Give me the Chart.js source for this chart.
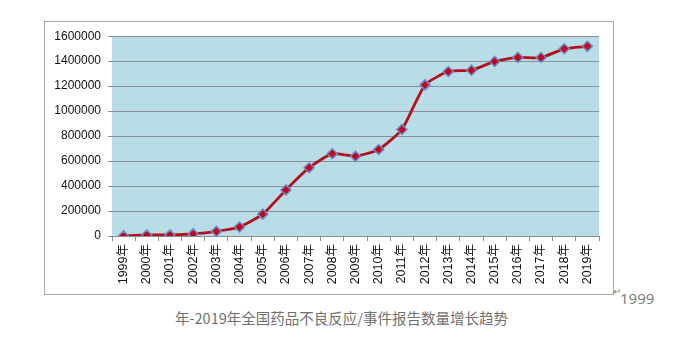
<!DOCTYPE html>
<html>
<head>
<meta charset="utf-8">
<script src="https://cdn.jsdelivr.net/npm/chart.js@4/dist/chart.umd.min.js"></script>
<style>
  html, body { margin: 0; padding: 0; background: #fff; width: 679px; height: 351px; overflow: hidden; position: relative; }
  #box { position: absolute; left: 44px; top: 21px; width: 568px; height: 272px; border: 1px solid #a6a6a6; background: #fff; }
  #box canvas { display: block; }
  .txt { position: absolute; color: #666; font-family: "Noto Sans CJK SC", "Noto Sans", sans-serif; white-space: nowrap; }
  #ret { left: 613px; top: 283px; font-size: 10px; color: #888; }
  #yr { left: 620px; top: 289px; font-size: 15px; line-height: 18px; font-family: "Noto Sans", "Noto Sans CJK SC", sans-serif; color: #808080; }
  #cap { left: 175px; top: 309px; font-size: 14.5px; line-height: 18px; color: #707070; }
</style>
</head>
<body>
<div id="box"><canvas id="c" width="568" height="272"></canvas></div>
<div class="txt" id="ret">↵</div>
<div class="txt" id="yr">1999</div>
<div class="txt" id="cap">年-2019年全国药品不良反应/事件报告数量增长趋势</div>
<script>
const categories = ["1999年","2000年","2001年","2002年","2003年","2004年","2005年","2006年","2007年","2008年","2009年","2010年","2011年","2012年","2013年","2014年","2015年","2016年","2017年","2018年","2019年"];
const reports = [1000, 8000, 9000, 17000, 37000, 72000, 175000, 369000, 547000, 659000, 639000, 693000, 853000, 1210000, 1317000, 1328000, 1398000, 1430000, 1429000, 1499000, 1519000];
const yTicks = [0, 200000, 400000, 600000, 800000, 1000000, 1200000, 1400000, 1600000];

const plotBg = {
  id: 'plotBg',
  beforeDraw(chart) {
    const { ctx, chartArea: a } = chart;
    ctx.save();
    ctx.fillStyle = '#b8dde6';
    ctx.fillRect(a.left, a.top, a.right - a.left, a.bottom - a.top);
    ctx.restore();
  }
};

new Chart(document.getElementById('c'), {
  type: 'line',
  data: {
    labels: categories,
    datasets: [{
      data: reports,
      borderColor: '#b3101c',
      borderWidth: 2.8,
      tension: 0.18,
      pointStyle: 'rectRot',
      pointRadius: 5,
      pointHoverRadius: 5,
      pointBackgroundColor: '#c8001c',
      pointBorderColor: '#6a8cc8',
      pointBorderWidth: 1.5,
      fill: false
    }]
  },
  options: {
    responsive: false,
    animation: false,
    devicePixelRatio: 1,
    layout: { padding: { top: 13, right: 14, left: 0, bottom: 0 } },
    plugins: { legend: { display: false }, tooltip: { enabled: false } },
    scales: {
      x: {
        type: 'category',
        offset: true,
        grid: { display: true, drawOnChartArea: false, drawTicks: true, tickLength: 5, color: '#8c8c8c', offset: true },
        border: { display: true, color: '#8c8c8c', width: 1 },
        ticks: {
          minRotation: 90, maxRotation: 90, autoSkip: false, padding: 3,
          color: '#111',
          font: { family: '"Liberation Sans", "Noto Sans CJK SC", sans-serif', size: 12.5 }
        },
        afterFit(scale) { scale.height = 58; }
      },
      y: {
        min: 0, max: 1600000,
        afterBuildTicks(scale) { scale.ticks = yTicks.map(v => ({ value: v })); },
        grid: { color: '#84939a', lineWidth: 1, drawTicks: true, tickLength: 4 },
        border: { display: false },
        ticks: {
          padding: 7,
          color: '#111',
          font: { family: '"Liberation Sans", sans-serif', size: 12 },
          callback: v => String(v)
        },
        afterFit(scale) { scale.width = 67; }
      }
    }
  },
  plugins: [plotBg]
});
</script>
</body>
</html>
